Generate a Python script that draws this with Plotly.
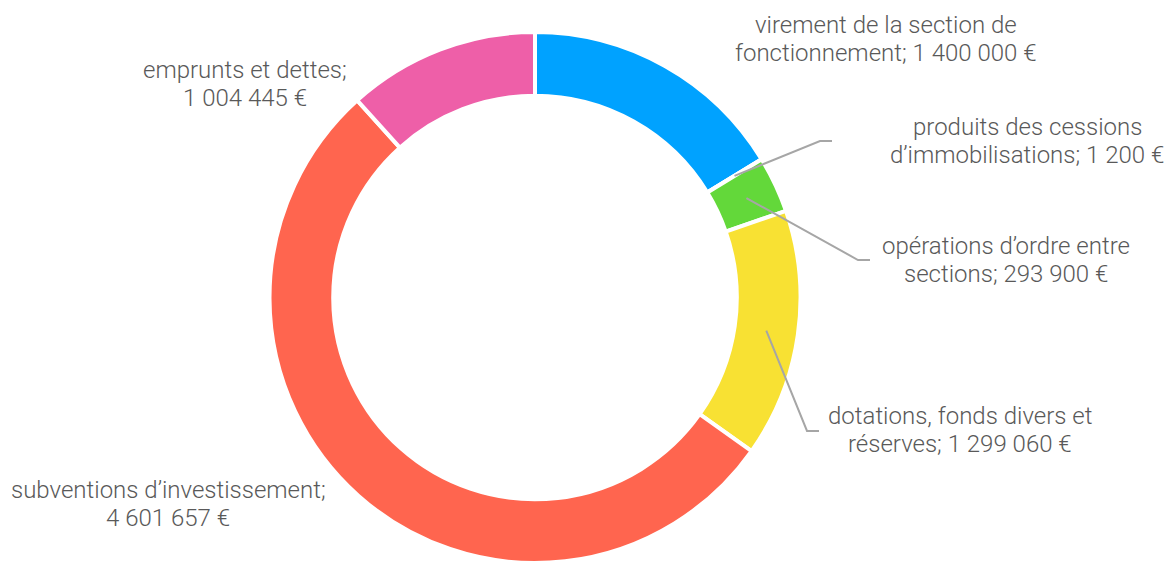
import math
import plotly.graph_objects as go

W, H = 1172, 563
OFF = 8  # page body margin around the plot div

categories = [
    ["virement de la section de", "fonctionnement; "],
    ["produits des cessions", "d’immobilisations; "],
    ["opérations d’ordre entre", "sections; "],
    ["dotations, fonds divers et", "réserves; "],
    ["subventions d’investissement;", ""],
    ["emprunts et dettes;", ""],
]
values = [1400000, 1200, 293900, 1299060, 4601657, 1004445]
colors = ["#00A2FF", "#63D83A", "#63D83A", "#F8E133", "#FF654F", "#EE5FA8"]

# label placement (page pixel centre of the text block) and optional leader elbow
label_pos = [(886, 39), (1027, 141), (1006, 260), (960, 430), (168, 504), (245, 84)]
elbows = [None, (820, 141), (858, 260), (807, 431), None, None]
elbow_len = 12
line_gap = 27.5

# pie geometry in page pixels
CX, CY = 535, 297.5
R_OUT = 265.5
HOLE = 0.76

FW, FH = W - OFF, H - OFF


def fmt(v):
    return f"{v:,}".replace(",", " ") + " €"


def px(x, y):
    return (x - OFF) / FW, 1 - (y - OFF) / FH


fig = go.Figure(go.Pie(
    values=values,
    labels=[" ".join(c).strip() for c in categories],
    marker=dict(colors=colors, line=dict(color="white", width=4)),
    hole=HOLE, sort=False, direction="clockwise", rotation=0,
    textinfo="none", hoverinfo="label+value",
    domain=dict(x=[(CX - OFF - R_OUT) / FW, (CX - OFF + R_OUT) / FW],
                y=[0, 1 - (CY - OFF - R_OUT) / FH]),
))

total = sum(values)
r_mid = R_OUT * (1 + HOLE) / 2
cum = 0
font = dict(family="Roboto", weight=300, size=24, color="#595959")
for (l1, l2), v, (lx, ly), el in zip(categories, values, label_pos, elbows):
    mid = (cum + v / 2) / total * 2 * math.pi
    cum += v
    for i, line in enumerate([l1, l2 + fmt(v)]):
        yy = ly + (i - 0.5) * line_gap
        fig.add_annotation(x=px(lx, yy)[0], y=px(lx, yy)[1], xref="paper", yref="paper",
                           text=line, showarrow=False, align="center",
                           xanchor="center", yanchor="middle", font=font)
    if el:
        sx = CX + r_mid * math.sin(mid)
        sy = CY - r_mid * math.cos(mid)
        pts = [(sx, sy), el, (el[0] + elbow_len, el[1])]
        path = "M " + " L ".join(f"{px(a, b)[0]},{px(a, b)[1]}" for a, b in pts)
        fig.add_shape(type="path", path=path, xref="paper", yref="paper",
                      line=dict(color="#A6A6A6", width=2))

fig.update_layout(width=FW, height=FH, margin=dict(l=0, r=0, t=0, b=0),
                  paper_bgcolor="white", showlegend=False)
fig.write_html("out.html")
